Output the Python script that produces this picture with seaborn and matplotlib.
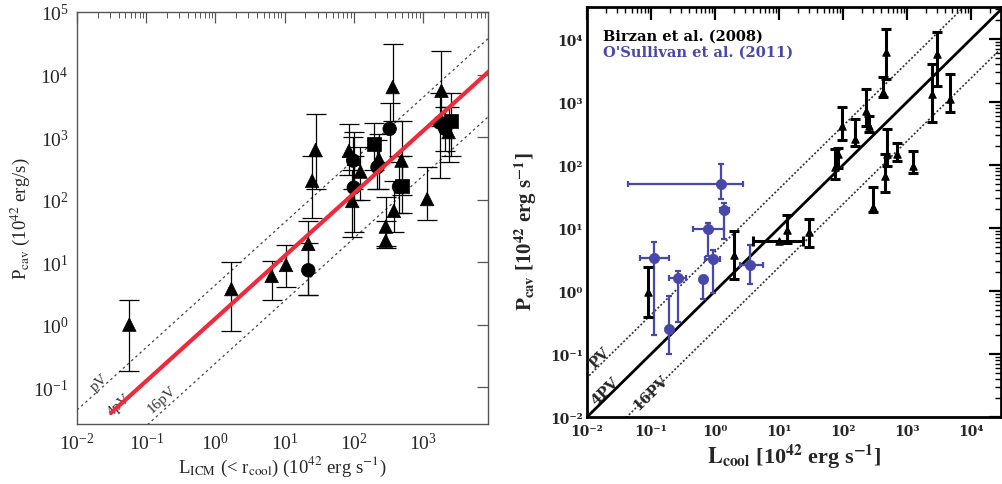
import numpy as np
import pandas as pd
import matplotlib
matplotlib.use("Agg")
import matplotlib.pyplot as plt
import seaborn as sns
from matplotlib.ticker import LogLocator, FuncFormatter, NullFormatter, FixedLocator

# ---------------- left panel: L_ICM vs P_cav ----------------
tri_x = [0.057, 1.7, 6.5, 10.5, 22, 25, 28, 85, 100, 125, 95, 230, 490, 380, 290, 290, 1150, 365, 1850, 2350]
tri_y = [1.0, 3.7, 6.0, 9.0, 19.5, 200, 620, 600, 450, 280, 95, 450, 420, 66, 37, 22, 102, 6300, 5500, 1200]
tri_lo = [0.18, 0.8, 2.5, 4.0, 3.0, 50, 150, 250, 100, 100, 25, 150, 120, 30, 18, 17, 47, 1800, 1500, 400]
tri_hi = [2.5, 10, 10.5, 19, 45, 500, 2300, 1600, 1200, 700, 300, 1100, 1800, 200, 110, 45, 330, 31000, 24000, 3000]

circ_x = [22, 100, 98, 220, 330, 450, 1750, 2100]
circ_y = [7.4, 155, 420, 330, 1350, 160, 1700, 1350]
circ_lo = [3.0, 30, 150, 150, 400, 60, 220, 600]
circ_hi = [20, 500, 1000, 900, 3500, 500, 5000, 3000]

sq_x = [195, 500, 2550]
sq_y = [780, 165, 1800]
sq_lo = [300, 60, 500]
sq_hi = [1700, 500, 5000]

left_guides = {"pV": 4.3, "16pV": 0.24}
left_fit = 1.25
left_fit_start = 0.03

# ---------------- right panel: L_cool vs P_cav ----------------
bir_x = [0.089, 2.0, 13.5, 30, 75, 85, 95, 155, 230, 255, 295, 430, 470, 460, 480, 690, 1260, 2450, 3000, 4700]
bir_y = [0.96, 3.7, 9.5, 8.7, 92, 150, 420, 260, 720, 420, 22, 1450, 6200, 68, 148, 148, 98, 1350, 5800, 1120]
bir_lo = [0.39, 1.55, 5.7, 5.0, 60, 90, 250, 200, 420, 330, 18, 1200, 2350, 37, 98, 118, 76, 480, 1800, 690]
bir_hi = [2.4, 9.1, 16, 14, 180, 190, 830, 540, 1600, 600, 45, 2500, 14500, 150, 370, 225, 170, 4000, 13000, 2750]
# one Birzan source with a horizontal error bar
bir_h_x, bir_h_y, bir_h_xlo, bir_h_xhi = [10.0], [6.2], [3.9], [24.0]

osu_x = [0.11, 0.19, 0.26, 0.65, 0.77, 0.93, 1.26, 1.38, 3.5]
osu_y = [3.3, 0.25, 1.6, 1.55, 9.6, 3.2, 50, 19.5, 2.6]
osu_xlo = [0.068, 0.19, 0.19, 0.65, 0.45, 0.70, 0.044, 1.2, 2.5]
osu_xhi = [0.19, 0.19, 0.35, 0.65, 1.4, 1.2, 2.75, 1.65, 5.6]
osu_ylo = [0.2, 0.1, 0.32, 0.74, 3.6, 0.95, 29, 6.8, 1.3]
osu_yhi = [6.0, 0.85, 2.1, 1.55, 12, 4.5, 105, 25, 5.3]

right_guides = {"PV": 4.2, "4PV": 1.0, "16PV": 0.24}

BLUE = "#4848a8"
GREY = "#555555"

sns.set_style("white")
plt.rcParams["font.family"] = ["Liberation Serif", "DejaVu Serif"]
plt.rcParams["mathtext.fontset"] = "stix"


def errs(y, lo, hi):
    y = np.array(y, float)
    return [y - np.array(lo, float), np.array(hi, float) - y]


def decades(lo, hi):
    # only the powers of ten that fall inside the axis range
    return 10.0 ** np.arange(np.ceil(np.log10(lo) - 1e-9), np.floor(np.log10(hi) + 1e-9) + 1)


fig = plt.figure(figsize=(10.03, 4.85), dpi=100)
ax1 = fig.add_axes([0.0768, 0.1237, 0.4097, 0.8495])
ax2 = fig.add_axes([0.5852, 0.138, 0.4128, 0.8454])

# ---- left ----
for xs, ys, lo, hi in [(tri_x, tri_y, tri_lo, tri_hi), (circ_x, circ_y, circ_lo, circ_hi),
                       (sq_x, sq_y, sq_lo, sq_hi)]:
    ax1.errorbar(xs, ys, yerr=errs(ys, lo, hi), fmt="none", ecolor="black",
                 elinewidth=0.9, capsize=7, capthick=0.9, zorder=2)

df_l = pd.concat([
    pd.DataFrame({"L": tri_x, "P": tri_y, "kind": "tri"}),
    pd.DataFrame({"L": circ_x, "P": circ_y, "kind": "circ"}),
    pd.DataFrame({"L": sq_x, "P": sq_y, "kind": "sq"}),
])
sns.scatterplot(data=df_l, x="L", y="P", style="kind", markers={"tri": "^", "circ": "o", "sq": "s"},
                color="black", s=95, edgecolor="black", linewidth=0.5, legend=False, ax=ax1, zorder=3)

ax1.set_xscale("log")
ax1.set_yscale("log")
ax1.set_xlim(1e-2, 8.7e3)
ax1.set_ylim(10 ** -1.59, 1e5)

xx = np.logspace(-2, 4, 50)
for name, k in left_guides.items():
    ax1.plot(xx, k * xx, ls=(0, (2, 2.5)), color="#444444", lw=0.9, zorder=1)
xf = np.logspace(np.log10(left_fit_start), 4, 50)
ax1.plot(xf, left_fit * xf, color="#ee2a3c", lw=3, zorder=4, solid_capstyle="butt")

ax1.text(0.021, 0.12, "pV", rotation=42, fontsize=11, ha="center", va="center", color="#333333")
ax1.text(0.040, 0.052, "4pV", rotation=42, fontsize=11, ha="center", va="center", color="#333333")
ax1.text(0.17, 0.066, "16pV", rotation=42, fontsize=11, ha="center", va="center", color="#333333")

ax1.xaxis.set_major_locator(FixedLocator(decades(*ax1.get_xlim())))
ax1.yaxis.set_major_locator(FixedLocator(decades(*ax1.get_ylim())))
ax1.xaxis.set_minor_locator(LogLocator(base=10, subs=np.arange(2, 10), numticks=20))
ax1.yaxis.set_minor_locator(LogLocator(base=10, subs=np.arange(2, 10), numticks=20))
ax1.xaxis.set_minor_formatter(NullFormatter())
ax1.yaxis.set_minor_formatter(NullFormatter())
ax1.tick_params(which="both", direction="in", top=True, right=True, color=GREY, labelsize=14, pad=6)
ax1.tick_params(which="major", length=8, width=0.9)
ax1.tick_params(which="minor", length=4, width=0.7)
ax1.tick_params(axis="y", which="minor", length=0)
for sp in ax1.spines.values():
    sp.set_color(GREY)
    sp.set_linewidth(1.0)
ax1.set_xlabel(r"L$_{\rm ICM}$ (< r$_{\rm cool}$) (10$^{42}$ erg s$^{-1}$)", fontsize=13.5, labelpad=0)
ax1.set_ylabel(r"P$_{\rm cav}$ (10$^{42}$ erg/s)", fontsize=13.5, labelpad=1)

# ---- right ----
ax2.set_xscale("log")
ax2.set_yscale("log")
ax2.set_xlim(1e-2, 10 ** 4.47)
ax2.set_ylim(1e-2, 10 ** 4.51)

xr = np.logspace(-2.5, 5, 50)
for name, k in right_guides.items():
    if name == "4PV":
        ax2.plot(xr, k * xr, color="black", lw=2.0, zorder=1)
    else:
        ax2.plot(xr, k * xr, ls=(0, (1.2, 1.2)), color="#333333", lw=1.2, zorder=1)

ax2.errorbar(bir_x, bir_y, yerr=errs(bir_y, bir_lo, bir_hi), fmt="none", ecolor="black",
             elinewidth=2.2, capsize=3.5, capthick=2.2, zorder=3)
ax2.errorbar(bir_h_x, bir_h_y, xerr=errs(bir_h_x, bir_h_xlo, bir_h_xhi), fmt="none", ecolor="black",
             elinewidth=2.2, capsize=3.5, capthick=2.2, zorder=3)
ax2.errorbar(osu_x, osu_y, xerr=errs(osu_x, osu_xlo, osu_xhi), yerr=errs(osu_y, osu_ylo, osu_yhi),
             fmt="none", ecolor=BLUE, elinewidth=1.6, capsize=2.5, capthick=1.6, zorder=2)

df_b = pd.DataFrame({"L": bir_x + bir_h_x, "P": bir_y + bir_h_y})
df_o = pd.DataFrame({"L": osu_x, "P": osu_y})
sns.scatterplot(data=df_b, x="L", y="P", marker="^", s=28, color="black", edgecolor="black",
                linewidth=0.8, legend=False, ax=ax2, zorder=4)
sns.scatterplot(data=df_o, x="L", y="P", marker="o", s=55, color=BLUE, edgecolor=BLUE,
                linewidth=0.5, legend=False, ax=ax2, zorder=4)

label_font = dict(fontsize=10.5, fontweight="bold", family="DejaVu Serif", rotation=44.5,
                  ha="center", va="center")
ax2.text(0.016, 0.09, "PV", **label_font)
ax2.text(0.019, 0.026, "4PV", **label_font)
ax2.text(0.10, 0.025, "16PV", **label_font)

ax2.text(0.039, 0.93, "Birzan et al. (2008)", transform=ax2.transAxes, fontsize=10.5,
         fontweight="bold", family="DejaVu Serif", color="black", va="center")
ax2.text(0.039, 0.89, "O'Sullivan et al. (2011)", transform=ax2.transAxes, fontsize=10.5,
         fontweight="bold", family="DejaVu Serif", color=BLUE, va="center")

SUP = str.maketrans("-0123456789", "⁻⁰¹²³⁴⁵⁶⁷⁸⁹")


def pow_label(v, pos):
    e = int(round(np.log10(v)))
    return "10" + str(e).translate(SUP)


ax2.xaxis.set_major_locator(FixedLocator(decades(*ax2.get_xlim())))
ax2.yaxis.set_major_locator(FixedLocator(decades(*ax2.get_ylim())))
ax2.xaxis.set_minor_locator(LogLocator(base=10, subs=np.arange(2, 10), numticks=20))
ax2.yaxis.set_minor_locator(LogLocator(base=10, subs=np.arange(2, 10), numticks=20))
ax2.xaxis.set_major_formatter(FuncFormatter(pow_label))
ax2.yaxis.set_major_formatter(FuncFormatter(pow_label))
ax2.xaxis.set_minor_formatter(NullFormatter())
ax2.yaxis.set_minor_formatter(NullFormatter())
ax2.tick_params(which="both", direction="in", top=True, right=True, color="black", labelsize=10)
ax2.tick_params(axis="x", pad=5)
ax2.tick_params(axis="y", pad=3)
ax2.tick_params(which="major", length=9, width=1.6)
ax2.tick_params(which="minor", length=4, width=1.0)
for lab in ax2.get_xticklabels() + ax2.get_yticklabels():
    lab.set_fontweight("bold")
    lab.set_family("DejaVu Serif")
for sp in ax2.spines.values():
    sp.set_color("black")
    sp.set_linewidth(2.0)
ax2.set_xlabel(r"$\mathbf{L_{cool}}$ [10$^{\mathbf{42}}$ erg s$^{\mathbf{-1}}$]", fontsize=16,
               fontweight="bold", labelpad=3)
ax2.set_ylabel(r"$\mathbf{P_{cav}}$ [10$^{\mathbf{42}}$ erg s$^{\mathbf{-1}}$]", fontsize=15,
               fontweight="bold")
ax2.yaxis.set_label_coords(-0.115, 0.455)

fig.savefig("out.png", dpi=100, facecolor="white")
